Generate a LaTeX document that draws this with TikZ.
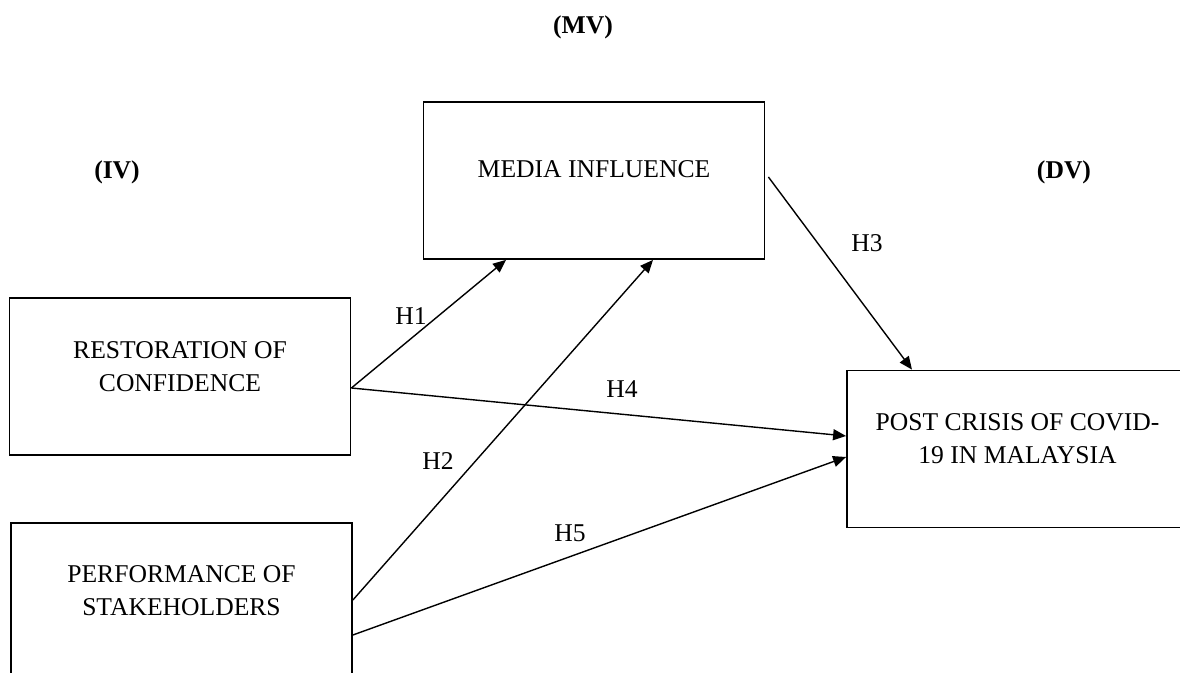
\documentclass[tikz,border=0pt]{standalone}
\usepackage{fontspec}
\setmainfont{Liberation Serif}
\usetikzlibrary{arrows.meta,positioning,calc}

\tikzset{
  varbox/.style={draw, line width=0.9pt, minimum width=170.5pt, minimum height=78.5pt, inner sep=0pt},
  boxtext/.style={align=center, font=\fontsize{12.8}{16.5}\selectfont, inner sep=0pt},
  hyplabel/.style={font=\fontsize{12.8}{15}\selectfont, inner sep=0pt},
  grouplabel/.style={font=\bfseries\fontsize{12.8}{15}\selectfont, inner sep=0pt},
  hyparrow/.style={-{Triangle[length=6.5pt,width=5.5pt]}, line width=0.7pt},
}

\begin{document}
\begin{tikzpicture}[x=0.5pt,y=-0.5pt]
  \clip (0,0) rectangle (1180,673);
  % variable groups
  \node[grouplabel] (mv) at (583,27) {(MV)};
  \node[grouplabel] (iv) at (117,172) {(IV)};
  \node[grouplabel] (dv) at (1064,172) {(DV)};
  % boxes
  \node[varbox] (media) at (594,180.5) {};
  \node[varbox] (restore) at (180,376.5) {};
  \node[varbox] (perform) at (181.5,601.5) {};
  \node[varbox] (post) at (1017.5,449) {};
  \node[boxtext] (mediatext) at ([yshift=5.75pt]media.center) {MEDIA INFLUENCE};
  \node[boxtext] (restoretext) at ([yshift=5pt]restore.center) {RESTORATION OF\\CONFIDENCE};
  \node[boxtext] (performtext) at ([yshift=5.5pt]perform.center) {PERFORMANCE OF\\STAKEHOLDERS};
  \node[boxtext] (posttext) at ([yshift=5.25pt]post.center) {POST CRISIS OF COVID-\\19 IN MALAYSIA};
  % hypotheses
  \draw[hyparrow] ([yshift=-5.75pt]restore.east) -- ([xshift=-44pt]media.south);
  \draw[hyparrow] ([yshift=0.75pt]perform.east) -- ([xshift=29.5pt]media.south);
  \draw[hyparrow] ([xshift=1.5pt,yshift=1.75pt]media.east) -- ([xshift=-52.75pt]post.north);
  \draw[hyparrow] ([yshift=-5.75pt]restore.east) -- ([yshift=6.5pt]post.west);
  \draw[hyparrow] ([yshift=-16.75pt]perform.east) -- ([yshift=-4pt]post.west);
  \node[hyplabel] (h1) at (411,316) {H1};
  \node[hyplabel] (h2) at (438,461) {H2};
  \node[hyplabel] (h3) at (867,243) {H3};
  \node[hyplabel] (h4) at (622,389) {H4};
  \node[hyplabel] (h5) at (570,533) {H5};
\end{tikzpicture}
\end{document}
